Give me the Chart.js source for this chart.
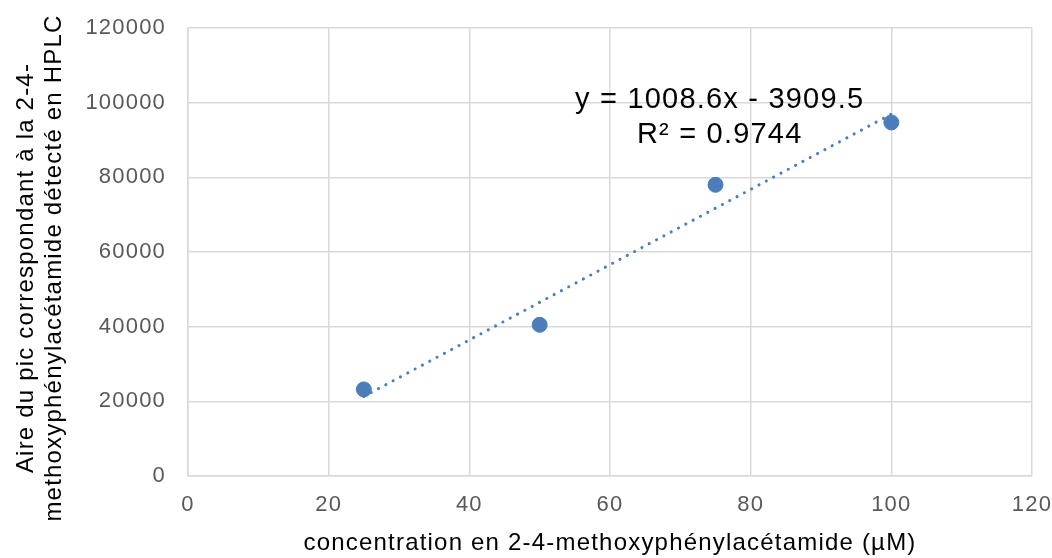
<!DOCTYPE html>
<html lang="fr">
<head>
    <meta charset="UTF-8">
    <title>Courbe d'étalonnage HPLC</title>
    <style>
        html, body { margin: 0; padding: 0; background: #fff; }
        #wrap { width: 1052px; height: 558px; position: relative; }
    </style>
</head>
<body>
    <div id="wrap"><canvas id="graphe"></canvas></div>

    <script src="https://cdn.jsdelivr.net/npm/chart.js"></script>
    <script>
        // données
        const concentrations = [25, 50, 75, 100];
        const aires = [23200, 40500, 78000, 94700];
        const xTicks = [0, 20, 40, 60, 80, 100, 120];
        const yTicks = [0, 20000, 40000, 60000, 80000, 100000, 120000];
        const pente = 1008.6;
        const ordonnee = -3909.5;
        const r2 = 0.9744;
        const titreY = ["Aire du pic correspondant à la 2-4-", "methoxyphénylacétamide détecté en HPLC"];

        const bleu = "#4a7ebb";
        const gris = "#d9d9d9";
        const police = "'Liberation Sans', Arial, sans-serif";

        // droite de tendance entre la première et la dernière concentration
        const xMin = concentrations[0];
        const xMax = concentrations[concentrations.length - 1];
        const tendance = [
            { x: xMin, y: pente * xMin + ordonnee },
            { x: xMax, y: pente * xMax + ordonnee }
        ];

        // texte un peu plus large, comme dans le graphique d'origine
        const espacement = {
            id: "espacement",
            beforeLayout(chart) { chart.ctx.letterSpacing = "1.2px"; },
            beforeDraw(chart) { chart.ctx.letterSpacing = "1.2px"; }
        };

        // titre de l'axe vertical (deux lignes, un peu sous le centre)
        const titreVertical = {
            id: "titreVertical",
            afterDraw(chart) {
                const c = chart.ctx;
                const area = chart.chartArea;
                const cy = (area.top + area.bottom) / 2 + 16;
                c.save();
                c.fillStyle = "#000";
                c.font = "24px " + police;
                c.textAlign = "center";
                c.textBaseline = "middle";
                titreY.forEach((ligne, i) => {
                    c.save();
                    c.translate(26 + i * 28, cy);
                    c.rotate(-Math.PI / 2);
                    c.fillText(ligne, 0, 0);
                    c.restore();
                });
                c.restore();
            }
        };

        const equationPlugin = {
            id: "equation",
            afterDatasetsDraw(chart) {
                const c = chart.ctx;
                const sx = chart.scales.x, sy = chart.scales.y;
                const cx = sx.getPixelForValue(75.6);
                c.save();
                c.fillStyle = "#000";
                c.font = "29px " + police;
                c.textAlign = "center";
                c.textBaseline = "middle";
                c.fillText("y = " + pente + "x - " + Math.abs(ordonnee), cx, sy.getPixelForValue(100600));
                c.fillText("R² = " + r2, cx, sy.getPixelForValue(91300));
                c.restore();
            }
        };

        new Chart(document.getElementById("graphe"), {
            type: "scatter",
            data: {
                datasets: [
                    {
                        label: "Tendance",
                        data: tendance,
                        showLine: true,
                        borderColor: bleu,
                        borderWidth: 3,
                        borderDash: [0.1, 8.2],
                        borderCapStyle: "round",
                        pointRadius: 0,
                        fill: false
                    },
                    {
                        label: "Aire",
                        data: concentrations.map((c, i) => ({ x: c, y: aires[i] })),
                        backgroundColor: bleu,
                        borderColor: bleu,
                        pointRadius: 7.5,
                        pointHoverRadius: 7.5
                    }
                ]
            },
            options: {
                responsive: true,
                maintainAspectRatio: false,
                animation: false,
                layout: { padding: { top: 28, right: 20, left: 0, bottom: 0 } },
                plugins: {
                    legend: { display: false },
                    tooltip: { enabled: false }
                },
                scales: {
                    x: {
                        type: "linear",
                        min: 0,
                        max: 120,
                        afterBuildTicks: axis => { axis.ticks = xTicks.map(v => ({ value: v })); },
                        afterFit: axis => {
                            axis.height = 82;
                            axis.paddingLeft = 0;
                            axis.paddingRight = 0;
                        },
                        grid: { color: gris, lineWidth: 1.5, drawTicks: false },
                        border: { color: gris, width: 1.5 },
                        ticks: {
                            color: "#595959",
                            padding: 16,
                            maxRotation: 0,
                            font: { family: police, size: 22 }
                        },
                        title: {
                            display: true,
                            text: "concentration en 2-4-methoxyphénylacétamide (\u00b5M)",
                            color: "#000",
                            font: { family: police, size: 24 },
                            padding: { top: 0, bottom: 0 }
                        }
                    },
                    y: {
                        min: 0,
                        max: 120000,
                        afterBuildTicks: axis => { axis.ticks = yTicks.map(v => ({ value: v })); },
                        afterFit: axis => {
                            axis.width = 188;
                            axis.paddingTop = 0;
                            axis.paddingBottom = 0;
                        },
                        grid: { color: gris, lineWidth: 1.5, drawTicks: false },
                        border: { color: gris, width: 1.5 },
                        ticks: {
                            color: "#595959",
                            padding: 22,
                            font: { family: police, size: 22 },
                            callback: v => String(v)
                        }
                    }
                }
            },
            plugins: [espacement, titreVertical, equationPlugin]
        });
    </script>
</body>
</html>
